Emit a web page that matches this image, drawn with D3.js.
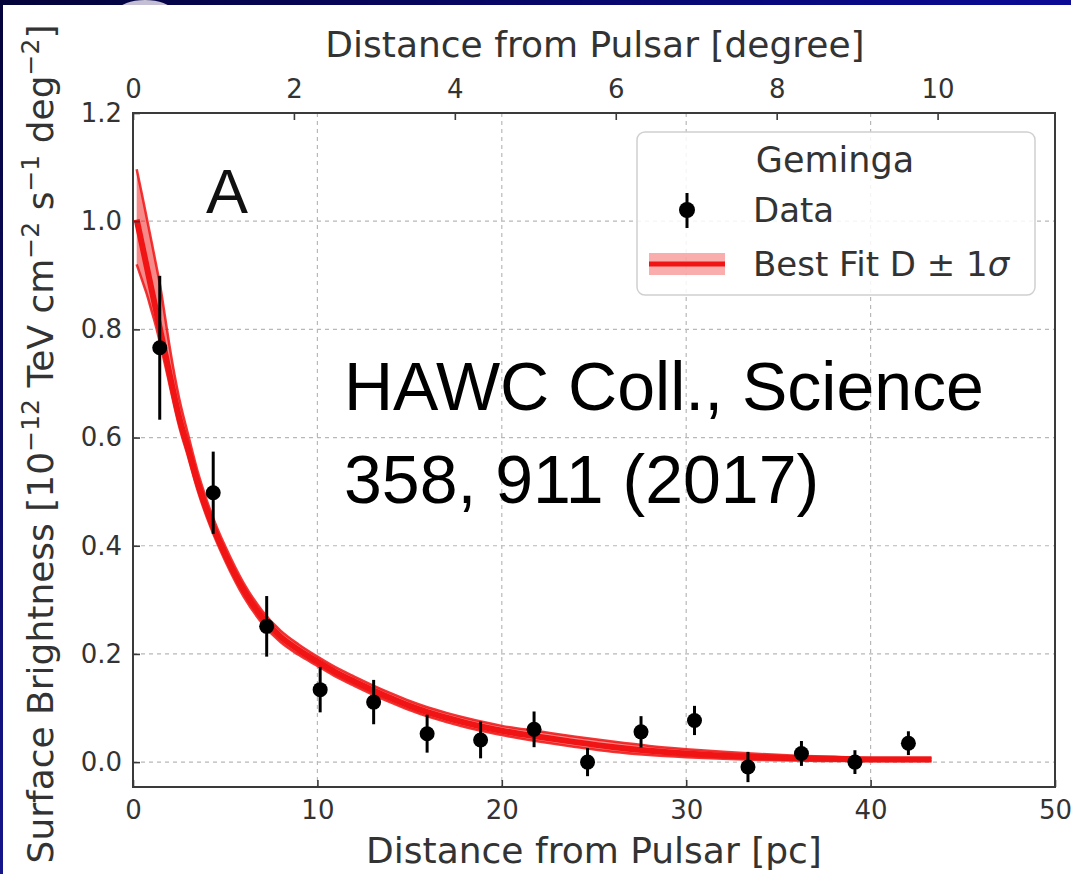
<!DOCTYPE html>
<html>
<head>
<meta charset="utf-8">
<script src="https://cdn.jsdelivr.net/npm/d3@7"></script>
<style>
  html, body { margin: 0; padding: 0; background: #ffffff; }
  svg { display: block; }
</style>
</head>
<body>
<svg id="chart" width="1071" height="874"></svg>
<script>
// Radial surface-brightness profile of Geminga (HAWC), data points and best-fit band

// binned data: distance [pc], surface brightness, 1-sigma error
const distPc     = [1.45, 4.35, 7.25, 10.15, 13.05, 15.95, 18.85, 21.75, 24.65, 27.55, 30.45, 33.35, 36.25, 39.15, 42.05];
const brightness = [0.766, 0.498, 0.251, 0.134, 0.111, 0.0525, 0.041, 0.0606, 0.0, 0.056, 0.077, -0.009, 0.016, 0.0, 0.035];
const errors     = [0.133, 0.076, 0.056, 0.042, 0.041, 0.035, 0.034, 0.033, 0.026, 0.029, 0.027, 0.028, 0.023, 0.022, 0.022];

// best-fit curve and its 1-sigma band
const fitPc  = [0.2, 0.5, 0.75, 1.0, 1.25, 1.5, 1.75, 2.0, 2.5, 3.0, 3.5, 4.0, 4.5, 5.0, 6.0, 7.0, 8.0, 9.0, 10, 11, 12, 13, 14, 15, 16, 17, 18, 19, 20, 22, 24, 26, 28, 30, 32, 34, 36, 38, 40, 43.3];
const fitMid = [1.003, 0.955, 0.915, 0.875, 0.835, 0.795, 0.755, 0.715, 0.638, 0.578, 0.517, 0.466, 0.422, 0.384, 0.318, 0.268, 0.232, 0.207, 0.186, 0.166, 0.149, 0.133, 0.118, 0.104, 0.092, 0.082, 0.073, 0.065, 0.058, 0.047, 0.037, 0.028, 0.021, 0.016, 0.012, 0.009, 0.007, 0.006, 0.005, 0.005];
const fitHi  = [1.096, 1.047, 1.005, 0.963, 0.92, 0.875, 0.82, 0.765, 0.673, 0.604, 0.538, 0.484, 0.438, 0.399, 0.331, 0.280, 0.243, 0.217, 0.195, 0.175, 0.158, 0.142, 0.127, 0.113, 0.101, 0.091, 0.082, 0.074, 0.067, 0.057, 0.047, 0.038, 0.030, 0.024, 0.019, 0.015, 0.012, 0.010, 0.008, 0.008];
const fitLo  = [0.920, 0.890, 0.865, 0.835, 0.805, 0.770, 0.733, 0.695, 0.621, 0.563, 0.503, 0.453, 0.41, 0.372, 0.306, 0.257, 0.222, 0.198, 0.178, 0.158, 0.141, 0.125, 0.110, 0.096, 0.084, 0.074, 0.065, 0.057, 0.050, 0.038, 0.028, 0.019, 0.013, 0.009, 0.006, 0.004, 0.003, 0.002, 0.002, 0.002];

// axis ticks
const pcTicks     = [0, 10, 20, 30, 40, 50];
const degreeTicks = [0, 2, 4, 6, 8, 10];
const yTicks      = [0.0, 0.2, 0.4, 0.6, 0.8, 1.0, 1.2];
const pcPerDegree = 4.3633; // 250 pc distance

const legendTitle = "Geminga";
const legendData  = "Data";
const legendFit   = "Best Fit D ± 1";
const legendSigma = "σ";
const panelLabel  = "A";
const citation    = ["HAWC Coll., Science", "358, 911 (2017)"];

const svg = d3.select("#chart");
const W = 1071, H = 874;
const plot = { left: 133, right: 1055, top: 113, bottom: 787 };
const RED = "#f01414";
const axisFont = "DejaVu Sans, sans-serif";

// slide background strips
const defs = svg.append("defs");
const gTop = defs.append("linearGradient").attr("id", "topStrip").attr("x1", 0).attr("x2", 1).attr("y1", 0).attr("y2", 0);
gTop.append("stop").attr("offset", 0).attr("stop-color", "#04033a");
gTop.append("stop").attr("offset", 1).attr("stop-color", "#0b0b96");
const gLeft = defs.append("linearGradient").attr("id", "leftStrip").attr("x1", 0).attr("x2", 0).attr("y1", 0).attr("y2", 1);
gLeft.append("stop").attr("offset", 0).attr("stop-color", "#04033a");
gLeft.append("stop").attr("offset", 1).attr("stop-color", "#16168c");

svg.append("rect").attr("x", 0).attr("y", 0).attr("width", W).attr("height", 6).attr("fill", "url(#topStrip)");
svg.append("rect").attr("x", 0).attr("y", 0).attr("width", 3).attr("height", H).attr("fill", "url(#leftStrip)");
svg.append("ellipse").attr("cx", 145).attr("cy", 10).attr("rx", 26).attr("ry", 10).attr("fill", "#c4bfd4");
svg.append("rect").attr("x", 3).attr("y", 5).attr("width", W - 3).attr("height", H - 5).attr("fill", "#ffffff");

// scales
const x = d3.scaleLinear().domain([0, 50]).range([plot.left, plot.right]);
const xDeg = d3.scaleLinear().domain([0, 50 / pcPerDegree]).range([plot.left, plot.right]);
const y = d3.scaleLinear().domain([-0.046, 1.2]).range([plot.bottom, plot.top]);

// grid
const grid = svg.append("g").attr("stroke", "#b8b8b8").attr("stroke-width", 1.2).attr("stroke-dasharray", "4,4");
grid.selectAll("line.v").data(pcTicks.filter(d => d > 0 && d < 50)).join("line")
  .attr("x1", d => x(d)).attr("x2", d => x(d)).attr("y1", plot.top).attr("y2", plot.bottom);
grid.selectAll("line.h").data(yTicks.filter(d => d < 1.2)).join("line")
  .attr("x1", plot.left).attr("x2", plot.right).attr("y1", d => y(d)).attr("y2", d => y(d));

// fit band and curve
const fitRows = fitPc.map((p, i) => ({ p, mid: fitMid[i], hi: fitHi[i], lo: fitLo[i] }));
const curve = d3.curveMonotoneX;
svg.append("path").datum(fitRows)
  .attr("d", d3.area().x(d => x(d.p)).y0(d => y(d.lo)).y1(d => y(d.hi)).curve(curve))
  .attr("fill", RED).attr("fill-opacity", 0.5);
["hi", "lo"].forEach(k => {
  svg.append("path").datum(fitRows)
    .attr("d", d3.line().x(d => x(d.p)).y(d => y(d[k])).curve(curve))
    .attr("fill", "none").attr("stroke", RED).attr("stroke-opacity", 0.85).attr("stroke-width", 2.5);
});
svg.append("path").datum(fitRows)
  .attr("d", d3.line().x(d => x(d.p)).y(d => y(d.mid)).curve(curve))
  .attr("fill", "none").attr("stroke", RED).attr("stroke-width", 6);

// data with error bars
const pts = distPc.map((p, i) => ({ p, v: brightness[i], e: errors[i] }));
const gPts = svg.append("g");
gPts.selectAll("line").data(pts).join("line")
  .attr("x1", d => x(d.p)).attr("x2", d => x(d.p))
  .attr("y1", d => y(d.v + d.e)).attr("y2", d => y(d.v - d.e))
  .attr("stroke", "#000").attr("stroke-width", 3);
gPts.selectAll("circle").data(pts).join("circle")
  .attr("cx", d => x(d.p)).attr("cy", d => y(d.v)).attr("r", 7.5).attr("fill", "#000");

// frame
svg.append("rect").attr("x", plot.left).attr("y", plot.top)
  .attr("width", plot.right - plot.left).attr("height", plot.bottom - plot.top)
  .attr("fill", "none").attr("stroke", "#3a3a3a").attr("stroke-width", 2);

// axes with inward ticks
function styleAxis(g) {
  g.select(".domain").remove();
  g.selectAll(".tick line").attr("stroke", "#3a3a3a").attr("stroke-width", 1.6);
  g.selectAll(".tick text").attr("fill", "#333").style("font-family", axisFont).style("font-size", "26px");
}
svg.append("g").attr("transform", `translate(0,${plot.bottom})`)
  .call(d3.axisBottom(x).tickValues(pcTicks).tickFormat(d3.format("d")).tickSize(-7).tickPadding(14))
  .call(styleAxis);
svg.append("g").attr("transform", `translate(0,${plot.top})`)
  .call(d3.axisTop(xDeg).tickValues(degreeTicks).tickFormat(d3.format("d")).tickSize(-7).tickPadding(15))
  .call(styleAxis);
svg.append("g").attr("transform", `translate(${plot.left},0)`)
  .call(d3.axisLeft(y).tickValues(yTicks).tickFormat(d3.format(".1f")).tickSize(-7).tickPadding(11))
  .call(styleAxis);

// axis titles
svg.append("text").attr("x", 594).attr("y", 863)
  .attr("text-anchor", "middle").style("font-family", axisFont).style("font-size", "36px").attr("fill", "#333")
  .text("Distance from Pulsar [pc]");
svg.append("text").attr("x", 595).attr("y", 57)
  .attr("text-anchor", "middle").style("font-family", axisFont).style("font-size", "36px").attr("fill", "#333")
  .text("Distance from Pulsar [degree]");

const yTitle = svg.append("text").attr("transform", "translate(53,444) rotate(-90)")
  .attr("text-anchor", "middle").style("font-family", axisFont).style("font-size", "36px").attr("fill", "#333");
const yParts = [["Surface Brightness [10", false], ["−12", true], [" TeV cm", false], ["−2", true],
                [" s", false], ["−1", true], [" deg", false], ["−2", true], ["]", false]];
yParts.forEach(([t, sup], i) => {
  const prevSup = i > 0 && yParts[i - 1][1];
  const ts = yTitle.append("tspan").text(t).attr("dy", sup ? -14 : (prevSup ? 14 : 0));
  if (sup) ts.style("font-size", "25px");
});

// legend
const lg = svg.append("g");
lg.append("rect").attr("x", 637).attr("y", 132).attr("width", 398).attr("height", 163).attr("rx", 8)
  .attr("fill", "#fff").attr("fill-opacity", 0.85).attr("stroke", "#d0d0d0").attr("stroke-width", 1.5);
lg.append("text").attr("x", 835).attr("y", 172).attr("text-anchor", "middle")
  .style("font-family", axisFont).style("font-size", "35px").attr("fill", "#333").text(legendTitle);
lg.append("line").attr("x1", 687).attr("x2", 687).attr("y1", 193).attr("y2", 228).attr("stroke", "#000").attr("stroke-width", 3);
lg.append("circle").attr("cx", 687).attr("cy", 210).attr("r", 8).attr("fill", "#000");
lg.append("text").attr("x", 753).attr("y", 222).style("font-family", axisFont).style("font-size", "34px").attr("fill", "#333").text(legendData);
lg.append("rect").attr("x", 649).attr("y", 253).attr("width", 76).attr("height", 22).attr("fill", RED).attr("fill-opacity", 0.35);
lg.append("line").attr("x1", 649).attr("x2", 725).attr("y1", 264).attr("y2", 264).attr("stroke", RED).attr("stroke-width", 5);
const fitLabel = lg.append("text").attr("x", 753).attr("y", 276).style("font-family", axisFont).style("font-size", "34px").attr("fill", "#333");
fitLabel.append("tspan").text(legendFit);
fitLabel.append("tspan").style("font-style", "italic").text(legendSigma);

// annotations
svg.append("text").attr("x", 206).attr("y", 213).style("font-family", "Liberation Sans, Arial, sans-serif")
  .style("font-size", "63px").attr("fill", "#111").text(panelLabel);
citation.forEach((line, i) => {
  svg.append("text").attr("x", 344).attr("y", 410 + i * 93).style("font-family", "Liberation Sans, Arial, sans-serif")
    .style("font-size", "68px").attr("fill", "#000").text(line);
});
</script>
</body>
</html>
